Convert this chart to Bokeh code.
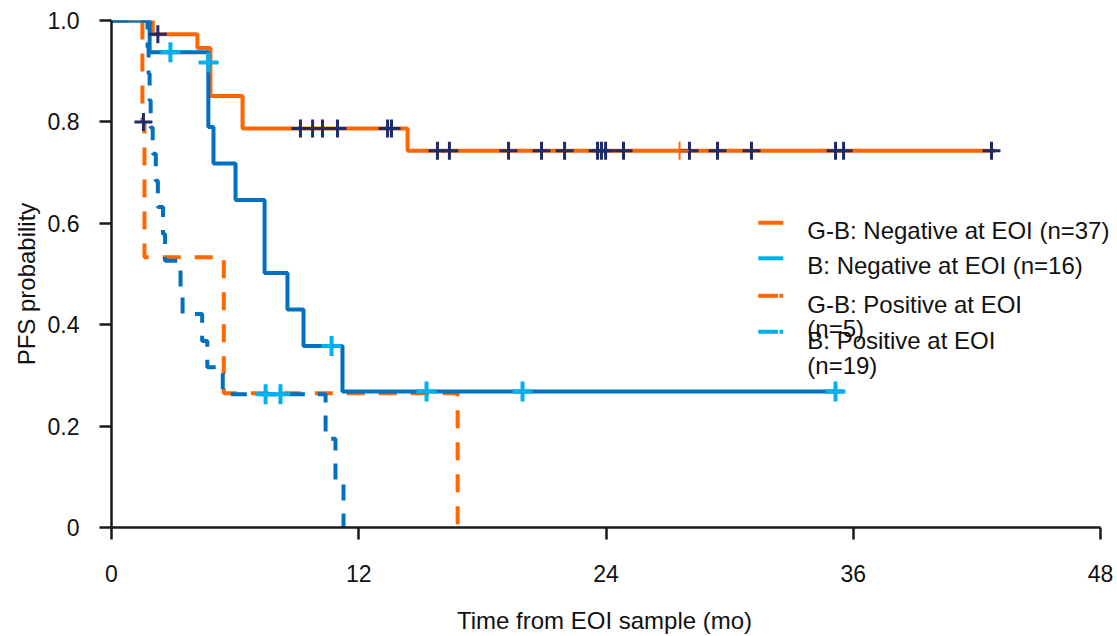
from bokeh.plotting import figure
from bokeh.models import Range1d, FixedTicker, Label, PrintfTickFormatter
from bokeh.embed import file_html
from bokeh.resources import INLINE

# ---------------- data ----------------
# G-B: Negative at EOI (n=37)
gbneg_t = [0, 2.0, 4.17, 4.8, 6.36, 14.37, 42.9]
gbneg_s = [1.0, 0.973, 0.946, 0.851, 0.787, 0.743, 0.743]
gbneg_cens_t = [2.25, 9.17, 9.76, 10.24, 10.97, 13.40, 13.59, 15.82, 16.40, 19.27,
                20.87, 21.99, 23.59, 23.78, 23.98, 24.85, 28.05, 29.41, 31.06,
                35.14, 35.53, 42.71]
gbneg_cens_s = [0.973, 0.787, 0.787, 0.787, 0.787, 0.787, 0.787, 0.743, 0.743, 0.743,
                0.743, 0.743, 0.743, 0.743, 0.743, 0.743, 0.743, 0.743, 0.743,
                0.743, 0.743, 0.743]
gbneg_cens2_t = [27.57]
gbneg_cens2_s = [0.743]

# B: Negative at EOI (n=16)
bneg_t = [0, 1.85, 4.7, 4.95, 6.02, 7.43, 8.54, 9.32, 11.21, 35.5]
bneg_s = [1.0, 0.9375, 0.79, 0.718, 0.646, 0.502, 0.43, 0.358, 0.268, 0.268]
bneg_cens_t = [2.86, 4.71, 10.68, 15.29, 19.95, 35.14]
bneg_cens_s = [0.9375, 0.917, 0.358, 0.268, 0.268, 0.268]

# G-B: Positive at EOI (n=5)
gbpos_t = [0, 1.5, 1.6, 5.45, 16.8]
gbpos_s = [1.0, 0.8, 0.533, 0.265, 0.0]
gbpos_cens_t = [1.55]
gbpos_cens_s = [0.8]

# B: Positive at EOI (n=19)
bpos_t = [0, 1.75, 1.8, 1.85, 1.9, 2.0, 2.15, 2.25, 2.5, 2.6, 3.35, 3.45, 4.4,
          4.65, 5.4, 10.39, 10.87, 11.26]
bpos_s = [1.0, 0.947, 0.895, 0.842, 0.789, 0.737, 0.684, 0.632, 0.579, 0.526,
          0.474, 0.421, 0.368, 0.316, 0.263, 0.175, 0.088, 0.0]
bpos_cens_t = [7.48, 8.2]
bpos_cens_s = [0.263, 0.263]

x_ticks = [0, 12, 24, 36, 48]
y_ticks = [0, 0.2, 0.4, 0.6, 0.8, 1.0]

legend_labels = ["G-B: Negative at EOI (n=37)", "B: Negative at EOI (n=16)",
                 "G-B: Positive at EOI", "(n=5)", "B: Positive at EOI", "(n=19)"]
x_title = "Time from EOI sample (mo)"
y_title = "PFS probability"

# ---------------- styles / layout ----------------
ORANGE = "#FF6600"
BLUE = "#0070C0"
LIGHT = "#00B0F0"
NAVY = "#1C2B69"
AXIS = "#1a1a1a"
FONT = "Liberation Sans"
PAD = "\u00a0\u00a0\u00a0"

p = figure(width=1117, height=636, output_backend="svg", toolbar_location=None,
           x_range=Range1d(0, 48.825), y_range=Range1d(0, 1),
           min_border_left=111, min_border_right=0, min_border_top=20,
           min_border_bottom=109)
p.outline_line_color = None
p.grid.visible = False
p.background_fill_color = "white"
p.border_fill_color = "white"

for ax in (p.xaxis[0], p.yaxis[0]):
    ax.axis_line_color = AXIS
    ax.axis_line_width = 2.5
    ax.major_tick_line_color = AXIS
    ax.major_tick_line_width = 2.5
    ax.major_tick_out = 12
    ax.major_tick_in = 0
    ax.minor_tick_line_color = None
    ax.major_label_text_font = FONT
    ax.major_label_text_font_size = "23px"
    ax.major_label_text_color = "#111111"
    ax.axis_label_text_font = FONT
    ax.axis_label_text_font_size = "24px"
    ax.axis_label_text_font_style = "normal"
    ax.axis_label_text_color = "#111111"

p.xaxis[0].bounds = (0, 48)
p.xaxis[0].ticker = FixedTicker(ticks=x_ticks)
p.yaxis[0].ticker = FixedTicker(ticks=y_ticks)
p.yaxis[0].formatter = PrintfTickFormatter(format="%.1f")
p.yaxis[0].major_label_overrides = {0: "0"}
p.yaxis[0].axis_label = y_title + PAD
p.xaxis[0].axis_label = x_title + PAD
p.xaxis[0].major_label_standoff = 25
p.xaxis[0].axis_label_standoff = 22
p.yaxis[0].major_label_standoff = 20
p.yaxis[0].axis_label_standoff = 5

LW = 4
p.step(gbpos_t, gbpos_s, mode="after", line_color=ORANGE, line_width=LW, line_dash="18 14")
p.step(gbneg_t, gbneg_s, mode="after", line_color=ORANGE, line_width=LW)
p.step(bpos_t, bpos_s, mode="after", line_color=BLUE, line_width=LW, line_dash="16 13")
p.step(bneg_t, bneg_s, mode="after", line_color=BLUE, line_width=LW)

p.scatter(gbneg_cens_t, gbneg_cens_s, marker="cross", size=18, line_color=NAVY, line_width=3)
p.scatter(gbneg_cens2_t, gbneg_cens2_s, marker="cross", size=18, line_color=ORANGE, line_width=2)
p.scatter(gbpos_cens_t, gbpos_cens_s, marker="cross", size=18, line_color=NAVY, line_width=3)
p.scatter(bneg_cens_t, bneg_cens_s, marker="cross", size=20, line_color=LIGHT, line_width=4)
p.scatter(bpos_cens_t, bpos_cens_s, marker="cross", size=20, line_color=LIGHT, line_width=4)

# ---------------- manual legend (layout constants in data space) ----------------
SW_X0, SW_X1, SW_XD, TX = 31.39, 32.6, 32.42, 33.77
sw_y = [0.601, 0.531, 0.457, 0.386]
sw_col = [ORANGE, LIGHT, ORANGE, LIGHT]
sw_dashed = [False, False, True, True]
for yy, c, d in zip(sw_y, sw_col, sw_dashed):
    if d:
        p.segment([SW_X0, SW_XD], [yy, yy], [32.35, 32.6], [yy, yy], line_color=c, line_width=LW)
    else:
        p.segment([SW_X0], [yy], [SW_X1], [yy], line_color=c, line_width=LW)

txt_y = [0.586, 0.517, 0.440, 0.3925, 0.3688, 0.3195]
for lab, yy in zip(legend_labels, txt_y):
    p.add_layout(Label(x=TX, y=yy, text=lab, text_font=FONT, text_font_size="24px",
                       text_color="#111111", text_baseline="alphabetic", text_align="left"))

open("out.html", "w").write(file_html(p, INLINE))
